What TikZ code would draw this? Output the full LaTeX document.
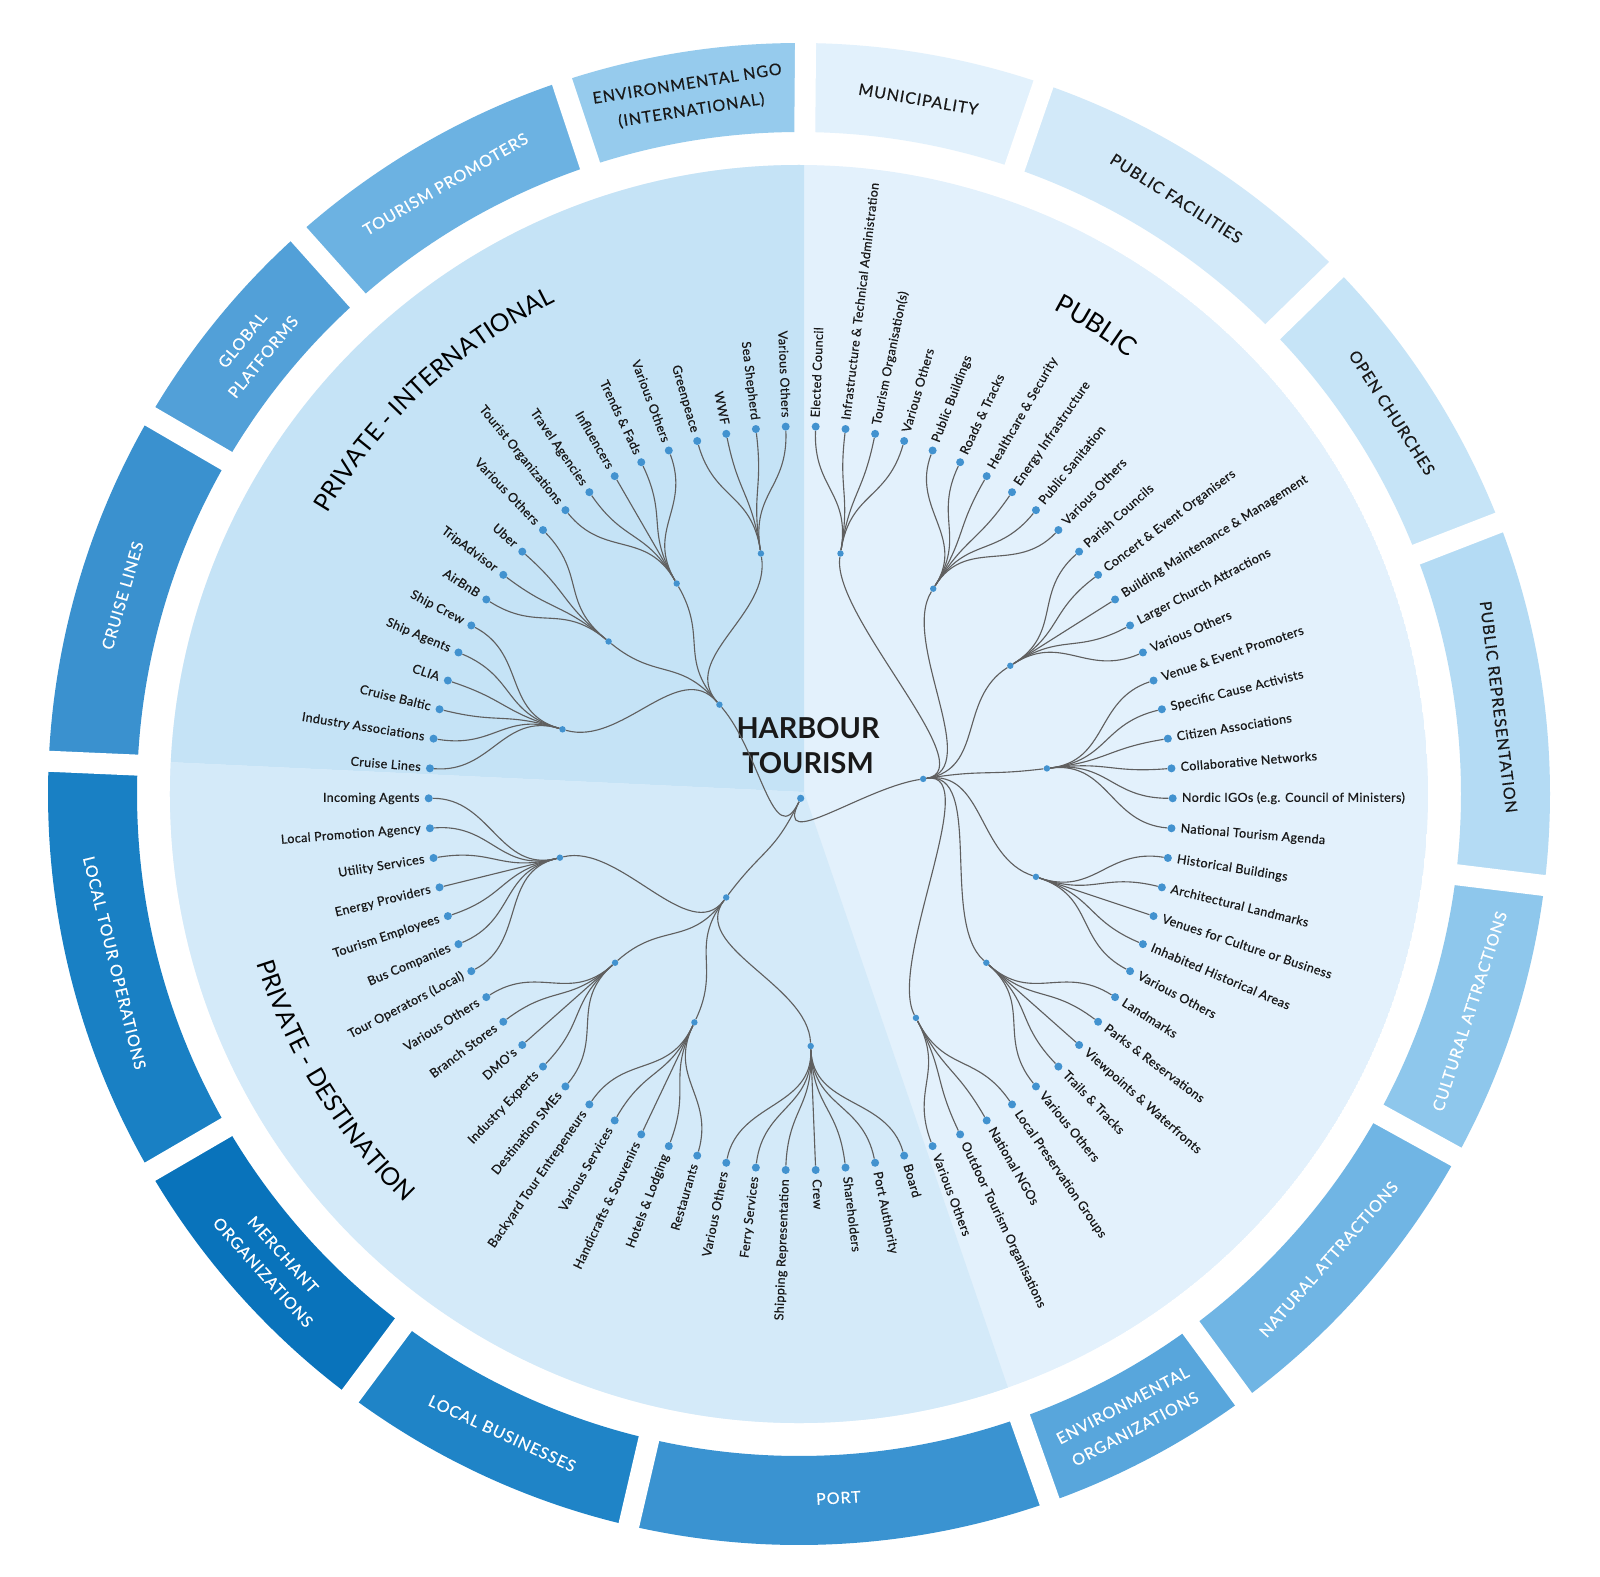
\documentclass[tikz,border=0pt]{standalone}
\usepackage{fontspec}
\setmainfont{Lato}
\newfontfamily\anillofam[LetterSpace=6, FakeBold=0.4]{Lato}
\newfontfamily\hojasfam[LetterSpace=3, FakeBold=0.6]{Lato}
\newcommand{\anillo}{\anillofam\fontsize{11.4}{19}\selectfont}
\newcommand{\hojas}{\hojasfam\fontsize{8.9}{10}\selectfont}
\newcommand{\titulo}{\fontsize{18.5}{20}\selectfont}
\newcommand{\titulob}{\fontsize{17.5}{20}\selectfont}
\usetikzlibrary{decorations.text}

\definecolor{fondoPI}{RGB}{197,227,246}
\definecolor{fondoPD}{RGB}{212,234,249}
\definecolor{fondoPU}{RGB}{227,241,252}
\definecolor{cMun}{RGB}{226,241,252}
\definecolor{cFac}{RGB}{210,233,249}
\definecolor{cIgl}{RGB}{198,228,247}
\definecolor{cRep}{RGB}{180,219,244}
\definecolor{cCul}{RGB}{142,199,236}
\definecolor{cNat}{RGB}{112,181,228}
\definecolor{cEnv}{RGB}{88,166,220}
\definecolor{cPto}{RGB}{58,147,209}
\definecolor{cNeg}{RGB}{31,132,199}
\definecolor{cMer}{RGB}{9,115,187}
\definecolor{cTou}{RGB}{25,128,196}
\definecolor{cCru}{RGB}{58,145,207}
\definecolor{cGlo}{RGB}{82,160,216}
\definecolor{cPro}{RGB}{108,178,226}
\definecolor{cNgo}{RGB}{150,203,237}
\definecolor{punto}{RGB}{66,146,207}
\definecolor{linea}{RGB}{95,95,95}
\definecolor{tinta}{RGB}{25,25,25}

\begin{document}
\begin{tikzpicture}[x=0.25mm, y=0.25mm,
	hoja/.style={circle, fill=punto, inner sep=0pt, minimum size=2mm},
	nudo/.style={circle, fill=punto, inner sep=0pt, minimum size=1.6mm},
	rama/.style={draw=linea, line width=0.28mm},
	etqD/.style={anchor=mid west, inner sep=0pt, text=tinta, font=\hojas},
	etqI/.style={anchor=mid east, inner sep=0pt, text=tinta, font=\hojas},
	seg/.style={font=\anillo, align=center},
	hueco/.style={white, line width=5.25mm}]

	\fill[white] (-799,-782) rectangle (801,794);
	\useasboundingbox (-799,-782) rectangle (801,794);

%disco
	\begin{scope}
	\clip (0,0) circle (629);
	\fill[fondoPU] (0,0) circle (629);
	\begin{scope}[shift={(5,2)}]
	\fill[fondoPI] (0,0) -- (90:900) -- (120:900) -- (150:900) -- (177.3:900) -- cycle;
	\fill[fondoPD] (0,0) -- (177.3:900) -- (205:900) -- (233:900) -- (261:900) -- (288.9:900) -- cycle;
	\end{scope}
	\end{scope}

%anillo
	\fill[cMun] (71:662) arc[start angle=71, end angle=89.5, radius=662] -- (89.5:751) arc[start angle=89.5, end angle=71, radius=751] -- cycle;
	\fill[cFac] (44.3:662) arc[start angle=44.3, end angle=71, radius=662] -- (71:751) arc[start angle=71, end angle=44.3, radius=751] -- cycle;
	\fill[cIgl] (21.2:662) arc[start angle=21.2, end angle=44.3, radius=662] -- (44.3:751) arc[start angle=44.3, end angle=21.2, radius=751] -- cycle;
	\fill[cRep] (-7:662) arc[start angle=-7, end angle=21.2, radius=662] -- (21.2:751) arc[start angle=21.2, end angle=-7, radius=751] -- cycle;
	\fill[cCul] (-28.9:662) arc[start angle=-28.9, end angle=-7, radius=662] -- (-7:751) arc[start angle=-7, end angle=-28.9, radius=751] -- cycle;
	\fill[cNat] (-53.7:662) arc[start angle=-53.7, end angle=-28.9, radius=662] -- (-28.9:751) arc[start angle=-28.9, end angle=-53.7, radius=751] -- cycle;
	\fill[cEnv] (-70.5:662) arc[start angle=-70.5, end angle=-53.7, radius=662] -- (-53.7:751) arc[start angle=-53.7, end angle=-70.5, radius=751] -- cycle;
	\fill[cPto] (-103.1:662) arc[start angle=-103.1, end angle=-70.5, radius=662] -- (-70.5:751) arc[start angle=-70.5, end angle=-103.1, radius=751] -- cycle;
	\fill[cNeg] (233.3:662) arc[start angle=233.3, end angle=256.9, radius=662] -- (256.9:751) arc[start angle=256.9, end angle=233.3, radius=751] -- cycle;
	\fill[cMer] (210.2:662) arc[start angle=210.2, end angle=233.3, radius=662] -- (233.3:751) arc[start angle=233.3, end angle=210.2, radius=751] -- cycle;
	\fill[cTou] (177.5:662) arc[start angle=177.5, end angle=210.2, radius=662] -- (210.2:751) arc[start angle=210.2, end angle=177.5, radius=751] -- cycle;
	\fill[cCru] (149.8:662) arc[start angle=149.8, end angle=177.5, radius=662] -- (177.5:751) arc[start angle=177.5, end angle=149.8, radius=751] -- cycle;
	\fill[cGlo] (131.8:662) arc[start angle=131.8, end angle=149.8, radius=662] -- (149.8:751) arc[start angle=149.8, end angle=131.8, radius=751] -- cycle;
	\fill[cPro] (108.4:662) arc[start angle=108.4, end angle=131.8, radius=662] -- (131.8:751) arc[start angle=131.8, end angle=108.4, radius=751] -- cycle;
	\fill[cNgo] (89.5:662) arc[start angle=89.5, end angle=108.4, radius=662] -- (108.4:751) arc[start angle=108.4, end angle=89.5, radius=751] -- cycle;
	%huecos
	\draw[hueco] (89.5:640) -- (89.5:770);   \draw[hueco] (71:640) -- (71:770);
	\draw[hueco] (44.3:640) -- (44.3:770);   \draw[hueco] (21.2:640) -- (21.2:770);
	\draw[hueco] (-7:640) -- (-7:770);       \draw[hueco] (-28.9:640) -- (-28.9:770);
	\draw[hueco] (-53.7:640) -- (-53.7:770); \draw[hueco] (-70.5:640) -- (-70.5:770);
	\draw[hueco] (256.9:640) -- (256.9:770); \draw[hueco] (233.3:640) -- (233.3:770);
	\draw[hueco] (210.2:640) -- (210.2:770); \draw[hueco] (177.5:640) -- (177.5:770);
	\draw[hueco] (149.8:640) -- (149.8:770); \draw[hueco] (131.8:640) -- (131.8:770);
	\draw[hueco] (108.4:640) -- (108.4:770);
	%textos del anillo
	\node[seg, text=tinta, rotate=-9.75] (rMun) at (80.25:705) {MUNICIPALITY};
	\node[seg, text=tinta, rotate=-32.35] (rFac) at (57.65:705) {PUBLIC FACILITIES};
	\node[seg, text=tinta, rotate=-57.25] (rIgl) at (32.75:705) {OPEN CHURCHES};
	\node[seg, text=tinta, rotate=-82.9] (rRep) at (7.1:705) {PUBLIC REPRESENTATION};
	\node[seg, text=white, rotate=72.05] (rCul) at (-17.95:705) {CULTURAL ATTRACTIONS};
	\node[seg, text=white, rotate=48.7] (rNat) at (-41.3:705) {NATURAL ATTRACTIONS};
	\node[seg, text=white, rotate=27.9] (rEnv) at (-62.1:705) {ENVIRONMENTAL\\ORGANIZATIONS};
	\node[seg, text=white, rotate=3.2] (rPto) at (-86.8:705) {PORT};
	\node[seg, text=white, rotate=-24.9] (rNeg) at (245.1:705) {LOCAL BUSINESSES};
	\node[seg, text=white, rotate=-48.25] (rMer) at (221.75:705) {MERCHANT\\ORGANIZATIONS};
	\node[seg, text=white, rotate=-76.15] (rTou) at (193.85:705) {LOCAL TOUR OPERATIONS};
	\node[seg, text=white, rotate=73.65] (rCru) at (163.65:705) {CRUISE LINES};
	\node[seg, text=white, rotate=50.8] (rGlo) at (140.8:705) {GLOBAL\\PLATFORMS};
	\node[seg, text=white, rotate=30.1] (rPro) at (120.1:705) {TOURISM PROMOTERS};
	\node[seg, text=tinta, rotate=8.95] (rNgo) at (98.95:705) {ENVIRONMENTAL NGO\\(INTERNATIONAL)};

%titulos
	\path[decorate, decoration={text along path, text align=center, text={|\titulo|PUBLIC}}] (87.6:547) arc[start angle=87.6, end angle=27.6, radius=547];
	\path[decorate, decoration={text along path, text align=center, text={|\titulob|PRIVATE - INTERNATIONAL}}] (162.8:549) arc[start angle=162.8, end angle=102.8, radius=549];
	\path[decorate, decoration={text along path, text align=center, text={|\titulob|PRIVATE - DESTINATION}}] (181.7:568) arc[start angle=181.7, end angle=241.7, radius=568];
	\node[font=\bfseries\fontsize{20.5}{25}\selectfont, align=center, text=tinta] (centro) at (9,48.5) {HARBOUR\\TOURISM};

%arbol
	\begin{scope}[shift={(1.7,-4.3)}]
	\node[nudo, minimum size=1.8mm] (raiz) at (0,0) {};
	\node[nudo] (gPU) at (9:124) {};
	\node[nudo] (gPD) at (233.08:124) {};
	\node[nudo] (gPI) at (130.96:124) {};
	\node[nudo] (sA) at (80.77:248) {};
	\node[nudo] (sB) at (57.69:248) {};
	\node[nudo] (sC) at (32.31:248) {};
	\node[nudo] (sD) at (6.92:248) {};
	\node[nudo] (sE) at (-18.46:248) {};
	\node[nudo] (sF) at (-41.54:248) {};
	\node[nudo] (sG) at (-62.31:248) {};
	\node[nudo] (sH) at (-87.69:248) {};
	\node[nudo] (sI) at (244.62:248) {};
	\node[nudo] (sJ) at (221.54:248) {};
	\node[nudo] (sK) at (193.85:248) {};
	\node[nudo] (sL) at (163.85:248) {};
	\node[nudo] (sM) at (140.77:248) {};
	\node[nudo] (sN) at (120:248) {};
	\node[nudo] (sO) at (99.23:248) {};

	%hojas (public)
	\node[hoja] (h0) at (87.69:372) {};   \node[etqD, rotate=87.69] (e0) at (87.69:381) {Elected Council};
	\node[hoja] (h1) at (83.08:372) {};   \node[etqD, rotate=83.08] (e1) at (83.08:381) {Infrastructure \& Technical Administration};
	\node[hoja] (h2) at (78.46:372) {};   \node[etqD, rotate=78.46] (e2) at (78.46:381) {Tourism Organisation(s)};
	\node[hoja] (h3) at (73.85:372) {};   \node[etqD, rotate=73.85] (e3) at (73.85:381) {Various Others};
	\node[hoja] (h4) at (69.23:372) {};   \node[etqD, rotate=69.23] (e4) at (69.23:381) {Public Buildings};
	\node[hoja] (h5) at (64.62:372) {};   \node[etqD, rotate=64.62] (e5) at (64.62:381) {Roads \& Tracks};
	\node[hoja] (h6) at (60:372) {};      \node[etqD, rotate=60] (e6) at (60:381) {Healthcare \& Security};
	\node[hoja] (h7) at (55.38:372) {};   \node[etqD, rotate=55.38] (e7) at (55.38:381) {Energy Infrastructure};
	\node[hoja] (h8) at (50.77:372) {};   \node[etqD, rotate=50.77] (e8) at (50.77:381) {Public Sanitation};
	\node[hoja] (h9) at (46.15:372) {};   \node[etqD, rotate=46.15] (e9) at (46.15:381) {Various Others};
	\node[hoja] (h10) at (41.54:372) {};  \node[etqD, rotate=41.54] (e10) at (41.54:381) {Parish Councils};
	\node[hoja] (h11) at (36.92:372) {};  \node[etqD, rotate=36.92] (e11) at (36.92:381) {Concert \& Event Organisers};
	\node[hoja] (h12) at (32.31:372) {};  \node[etqD, rotate=32.31] (e12) at (32.31:381) {Building Maintenance \& Management};
	\node[hoja] (h13) at (27.69:372) {};  \node[etqD, rotate=27.69] (e13) at (27.69:381) {Larger Church Attractions};
	\node[hoja] (h14) at (23.08:372) {};  \node[etqD, rotate=23.08] (e14) at (23.08:381) {Various Others};
	\node[hoja] (h15) at (18.46:372) {};  \node[etqD, rotate=18.46] (e15) at (18.46:381) {Venue \& Event Promoters};
	\node[hoja] (h16) at (13.85:372) {};  \node[etqD, rotate=13.85] (e16) at (13.85:381) {Specific Cause Activists};
	\node[hoja] (h17) at (9.23:372) {};   \node[etqD, rotate=9.23] (e17) at (9.23:381) {Citizen Associations};
	\node[hoja] (h18) at (4.62:372) {};   \node[etqD, rotate=4.62] (e18) at (4.62:381) {Collaborative Networks};
	\node[hoja] (h19) at (0:372) {};      \node[etqD, rotate=0] (e19) at (0:381) {Nordic IGOs (e.g. Council of Ministers)};
	\node[hoja] (h20) at (-4.62:372) {};  \node[etqD, rotate=-4.62] (e20) at (-4.62:381) {National Tourism Agenda};
	\node[hoja] (h21) at (-9.23:372) {};  \node[etqD, rotate=-9.23] (e21) at (-9.23:381) {Historical Buildings};
	\node[hoja] (h22) at (-13.85:372) {}; \node[etqD, rotate=-13.85] (e22) at (-13.85:381) {Architectural Landmarks};
	\node[hoja] (h23) at (-18.46:372) {}; \node[etqD, rotate=-18.46] (e23) at (-18.46:381) {Venues for Culture or Business};
	\node[hoja] (h24) at (-23.08:372) {}; \node[etqD, rotate=-23.08] (e24) at (-23.08:381) {Inhabited Historical Areas};
	\node[hoja] (h25) at (-27.69:372) {}; \node[etqD, rotate=-27.69] (e25) at (-27.69:381) {Various Others};
	\node[hoja] (h26) at (-32.31:372) {}; \node[etqD, rotate=-32.31] (e26) at (-32.31:381) {Landmarks};
	\node[hoja] (h27) at (-36.92:372) {}; \node[etqD, rotate=-36.92] (e27) at (-36.92:381) {Parks \& Reservations};
	\node[hoja] (h28) at (-41.54:372) {}; \node[etqD, rotate=-41.54] (e28) at (-41.54:381) {Viewpoints \& Waterfronts};
	\node[hoja] (h29) at (-46.15:372) {}; \node[etqD, rotate=-46.15] (e29) at (-46.15:381) {Trails \& Tracks};
	\node[hoja] (h30) at (-50.77:372) {}; \node[etqD, rotate=-50.77] (e30) at (-50.77:381) {Various Others};
	\node[hoja] (h31) at (-55.38:372) {}; \node[etqD, rotate=-55.38] (e31) at (-55.38:381) {Local Preservation Groups};
	\node[hoja] (h32) at (-60:372) {};    \node[etqD, rotate=-60] (e32) at (-60:381) {National NGOs};
	\node[hoja] (h33) at (-64.62:372) {}; \node[etqD, rotate=-64.62] (e33) at (-64.62:381) {Outdoor Tourism Organisations};
	\node[hoja] (h34) at (-69.23:372) {}; \node[etqD, rotate=-69.23] (e34) at (-69.23:381) {Various Others};
	%hojas (private - destination)
	\node[hoja] (h35) at (-73.85:372) {}; \node[etqD, rotate=-73.85] (e35) at (-73.85:381) {Board};
	\node[hoja] (h36) at (-78.46:372) {}; \node[etqD, rotate=-78.46] (e36) at (-78.46:381) {Port Authority};
	\node[hoja] (h37) at (-83.08:372) {}; \node[etqD, rotate=-83.08] (e37) at (-83.08:381) {Shareholders};
	\node[hoja] (h38) at (-87.69:372) {}; \node[etqD, rotate=-87.69] (e38) at (-87.69:381) {Crew};
	\node[hoja] (h39) at (267.69:372) {}; \node[etqI, rotate=87.69] (e39) at (267.69:381) {Shipping Representation};
	\node[hoja] (h40) at (263.08:372) {}; \node[etqI, rotate=83.08] (e40) at (263.08:381) {Ferry Services};
	\node[hoja] (h41) at (258.46:372) {}; \node[etqI, rotate=78.46] (e41) at (258.46:381) {Various Others};
	\node[hoja] (h42) at (253.85:372) {}; \node[etqI, rotate=73.85] (e42) at (253.85:381) {Restaurants};
	\node[hoja] (h43) at (249.23:372) {}; \node[etqI, rotate=69.23] (e43) at (249.23:381) {Hotels \& Lodging};
	\node[hoja] (h44) at (244.62:372) {}; \node[etqI, rotate=64.62] (e44) at (244.62:381) {Handicrafts \& Souvenirs};
	\node[hoja] (h45) at (240:372) {};    \node[etqI, rotate=60] (e45) at (240:381) {Various Services};
	\node[hoja] (h46) at (235.38:372) {}; \node[etqI, rotate=55.38] (e46) at (235.38:381) {Backyard Tour Entrepeneurs};
	\node[hoja] (h47) at (230.77:372) {}; \node[etqI, rotate=50.77] (e47) at (230.77:381) {Destination SMEs};
	\node[hoja] (h48) at (226.15:372) {}; \node[etqI, rotate=46.15] (e48) at (226.15:381) {Industry Experts};
	\node[hoja] (h49) at (221.54:372) {}; \node[etqI, rotate=41.54] (e49) at (221.54:381) {DMO's};
	\node[hoja] (h50) at (216.92:372) {}; \node[etqI, rotate=36.92] (e50) at (216.92:381) {Branch Stores};
	\node[hoja] (h51) at (212.31:372) {}; \node[etqI, rotate=32.31] (e51) at (212.31:381) {Various Others};
	\node[hoja] (h52) at (207.69:372) {}; \node[etqI, rotate=27.69] (e52) at (207.69:381) {Tour Operators (Local)};
	\node[hoja] (h53) at (203.08:372) {}; \node[etqI, rotate=23.08] (e53) at (203.08:381) {Bus Companies};
	\node[hoja] (h54) at (198.46:372) {}; \node[etqI, rotate=18.46] (e54) at (198.46:381) {Tourism Employees};
	\node[hoja] (h55) at (193.85:372) {}; \node[etqI, rotate=13.85] (e55) at (193.85:381) {Energy Providers};
	\node[hoja] (h56) at (189.23:372) {}; \node[etqI, rotate=9.23] (e56) at (189.23:381) {Utility Services};
	\node[hoja] (h57) at (184.62:372) {}; \node[etqI, rotate=4.62] (e57) at (184.62:381) {Local Promotion Agency};
	\node[hoja] (h58) at (180:372) {};    \node[etqI, rotate=0] (e58) at (180:381) {Incoming Agents};
	%hojas (private - international)
	\node[hoja] (h59) at (175.38:372) {}; \node[etqI, rotate=-4.62] (e59) at (175.38:381) {Cruise Lines};
	\node[hoja] (h60) at (170.77:372) {}; \node[etqI, rotate=-9.23] (e60) at (170.77:381) {Industry Associations};
	\node[hoja] (h61) at (166.15:372) {}; \node[etqI, rotate=-13.85] (e61) at (166.15:381) {Cruise Baltic};
	\node[hoja] (h62) at (161.54:372) {}; \node[etqI, rotate=-18.46] (e62) at (161.54:381) {CLIA};
	\node[hoja] (h63) at (156.92:372) {}; \node[etqI, rotate=-23.08] (e63) at (156.92:381) {Ship Agents};
	\node[hoja] (h64) at (152.31:372) {}; \node[etqI, rotate=-27.69] (e64) at (152.31:381) {Ship Crew};
	\node[hoja] (h65) at (147.69:372) {}; \node[etqI, rotate=-32.31] (e65) at (147.69:381) {AirBnB};
	\node[hoja] (h66) at (143.08:372) {}; \node[etqI, rotate=-36.92] (e66) at (143.08:381) {TripAdvisor};
	\node[hoja] (h67) at (138.46:372) {}; \node[etqI, rotate=-41.54] (e67) at (138.46:381) {Uber};
	\node[hoja] (h68) at (133.85:372) {}; \node[etqI, rotate=-46.15] (e68) at (133.85:381) {Various Others};
	\node[hoja] (h69) at (129.23:372) {}; \node[etqI, rotate=-50.77] (e69) at (129.23:381) {Tourist Organizations};
	\node[hoja] (h70) at (124.62:372) {}; \node[etqI, rotate=-55.38] (e70) at (124.62:381) {Travel Agencies};
	\node[hoja] (h71) at (120:372) {};    \node[etqI, rotate=-60] (e71) at (120:381) {Influencers};
	\node[hoja] (h72) at (115.38:372) {}; \node[etqI, rotate=-64.62] (e72) at (115.38:381) {Trends \& Fads};
	\node[hoja] (h73) at (110.77:372) {}; \node[etqI, rotate=-69.23] (e73) at (110.77:381) {Various Others};
	\node[hoja] (h74) at (106.15:372) {}; \node[etqI, rotate=-73.85] (e74) at (106.15:381) {Greenpeace};
	\node[hoja] (h75) at (101.54:372) {}; \node[etqI, rotate=-78.46] (e75) at (101.54:381) {WWF};
	\node[hoja] (h76) at (96.92:372) {};  \node[etqI, rotate=-83.08] (e76) at (96.92:381) {Sea Shepherd};
	\node[hoja] (h77) at (92.31:372) {};  \node[etqI, rotate=-87.69] (e77) at (92.31:381) {Various Others};

	%raiz
	\draw[rama] (raiz) .. controls (243.98:62) and (9:62) .. (gPU);
	\draw[rama] (raiz) .. controls (243.98:62) and (233.08:62) .. (gPD);
	\draw[rama] (raiz) .. controls (243.98:62) and (130.96:62) .. (gPI);
	%grupos
	\draw[rama] (gPU) .. controls (9:186) and (80.77:186) .. (sA);
	\draw[rama] (gPU) .. controls (9:186) and (57.69:186) .. (sB);
	\draw[rama] (gPU) .. controls (9:186) and (32.31:186) .. (sC);
	\draw[rama] (gPU) .. controls (9:186) and (6.92:186) .. (sD);
	\draw[rama] (gPU) .. controls (9:186) and (-18.46:186) .. (sE);
	\draw[rama] (gPU) .. controls (9:186) and (-41.54:186) .. (sF);
	\draw[rama] (gPU) .. controls (9:186) and (-62.31:186) .. (sG);
	\draw[rama] (gPD) .. controls (233.08:186) and (272.31:186) .. (sH);
	\draw[rama] (gPD) .. controls (233.08:186) and (244.62:186) .. (sI);
	\draw[rama] (gPD) .. controls (233.08:186) and (221.54:186) .. (sJ);
	\draw[rama] (gPD) .. controls (233.08:186) and (193.85:186) .. (sK);
	\draw[rama] (gPI) .. controls (130.96:186) and (163.85:186) .. (sL);
	\draw[rama] (gPI) .. controls (130.96:186) and (140.77:186) .. (sM);
	\draw[rama] (gPI) .. controls (130.96:186) and (120:186) .. (sN);
	\draw[rama] (gPI) .. controls (130.96:186) and (99.23:186) .. (sO);
	%A
	\draw[rama] (sA) .. controls (80.77:310) and (87.69:310) .. (h0);
	\draw[rama] (sA) .. controls (80.77:310) and (83.08:310) .. (h1);
	\draw[rama] (sA) .. controls (80.77:310) and (78.46:310) .. (h2);
	\draw[rama] (sA) .. controls (80.77:310) and (73.85:310) .. (h3);
	%B
	\draw[rama] (sB) .. controls (57.69:310) and (69.23:310) .. (h4);
	\draw[rama] (sB) .. controls (57.69:310) and (64.62:310) .. (h5);
	\draw[rama] (sB) .. controls (57.69:310) and (60:310) .. (h6);
	\draw[rama] (sB) .. controls (57.69:310) and (55.38:310) .. (h7);
	\draw[rama] (sB) .. controls (57.69:310) and (50.77:310) .. (h8);
	\draw[rama] (sB) .. controls (57.69:310) and (46.15:310) .. (h9);
	%C
	\draw[rama] (sC) .. controls (32.31:310) and (41.54:310) .. (h10);
	\draw[rama] (sC) .. controls (32.31:310) and (36.92:310) .. (h11);
	\draw[rama] (sC) .. controls (32.31:310) and (32.31:310) .. (h12);
	\draw[rama] (sC) .. controls (32.31:310) and (27.69:310) .. (h13);
	\draw[rama] (sC) .. controls (32.31:310) and (23.08:310) .. (h14);
	%D
	\draw[rama] (sD) .. controls (6.92:310) and (18.46:310) .. (h15);
	\draw[rama] (sD) .. controls (6.92:310) and (13.85:310) .. (h16);
	\draw[rama] (sD) .. controls (6.92:310) and (9.23:310) .. (h17);
	\draw[rama] (sD) .. controls (6.92:310) and (4.62:310) .. (h18);
	\draw[rama] (sD) .. controls (6.92:310) and (0:310) .. (h19);
	\draw[rama] (sD) .. controls (6.92:310) and (-4.62:310) .. (h20);
	%E
	\draw[rama] (sE) .. controls (-18.46:310) and (-9.23:310) .. (h21);
	\draw[rama] (sE) .. controls (-18.46:310) and (-13.85:310) .. (h22);
	\draw[rama] (sE) .. controls (-18.46:310) and (-18.46:310) .. (h23);
	\draw[rama] (sE) .. controls (-18.46:310) and (-23.08:310) .. (h24);
	\draw[rama] (sE) .. controls (-18.46:310) and (-27.69:310) .. (h25);
	%F
	\draw[rama] (sF) .. controls (-41.54:310) and (-32.31:310) .. (h26);
	\draw[rama] (sF) .. controls (-41.54:310) and (-36.92:310) .. (h27);
	\draw[rama] (sF) .. controls (-41.54:310) and (-41.54:310) .. (h28);
	\draw[rama] (sF) .. controls (-41.54:310) and (-46.15:310) .. (h29);
	\draw[rama] (sF) .. controls (-41.54:310) and (-50.77:310) .. (h30);
	%G
	\draw[rama] (sG) .. controls (-62.31:310) and (-55.38:310) .. (h31);
	\draw[rama] (sG) .. controls (-62.31:310) and (-60:310) .. (h32);
	\draw[rama] (sG) .. controls (-62.31:310) and (-64.62:310) .. (h33);
	\draw[rama] (sG) .. controls (-62.31:310) and (-69.23:310) .. (h34);
	%H
	\draw[rama] (sH) .. controls (-87.69:310) and (-73.85:310) .. (h35);
	\draw[rama] (sH) .. controls (-87.69:310) and (-78.46:310) .. (h36);
	\draw[rama] (sH) .. controls (-87.69:310) and (-83.08:310) .. (h37);
	\draw[rama] (sH) .. controls (-87.69:310) and (-87.69:310) .. (h38);
	\draw[rama] (sH) .. controls (-87.69:310) and (267.69:310) .. (h39);
	\draw[rama] (sH) .. controls (-87.69:310) and (263.08:310) .. (h40);
	\draw[rama] (sH) .. controls (-87.69:310) and (258.46:310) .. (h41);
	%I
	\draw[rama] (sI) .. controls (244.62:310) and (253.85:310) .. (h42);
	\draw[rama] (sI) .. controls (244.62:310) and (249.23:310) .. (h43);
	\draw[rama] (sI) .. controls (244.62:310) and (244.62:310) .. (h44);
	\draw[rama] (sI) .. controls (244.62:310) and (240:310) .. (h45);
	\draw[rama] (sI) .. controls (244.62:310) and (235.38:310) .. (h46);
	%J
	\draw[rama] (sJ) .. controls (221.54:310) and (230.77:310) .. (h47);
	\draw[rama] (sJ) .. controls (221.54:310) and (226.15:310) .. (h48);
	\draw[rama] (sJ) .. controls (221.54:310) and (221.54:310) .. (h49);
	\draw[rama] (sJ) .. controls (221.54:310) and (216.92:310) .. (h50);
	\draw[rama] (sJ) .. controls (221.54:310) and (212.31:310) .. (h51);
	%K
	\draw[rama] (sK) .. controls (193.85:310) and (207.69:310) .. (h52);
	\draw[rama] (sK) .. controls (193.85:310) and (203.08:310) .. (h53);
	\draw[rama] (sK) .. controls (193.85:310) and (198.46:310) .. (h54);
	\draw[rama] (sK) .. controls (193.85:310) and (193.85:310) .. (h55);
	\draw[rama] (sK) .. controls (193.85:310) and (189.23:310) .. (h56);
	\draw[rama] (sK) .. controls (193.85:310) and (184.62:310) .. (h57);
	\draw[rama] (sK) .. controls (193.85:310) and (180:310) .. (h58);
	%L
	\draw[rama] (sL) .. controls (163.85:310) and (175.38:310) .. (h59);
	\draw[rama] (sL) .. controls (163.85:310) and (170.77:310) .. (h60);
	\draw[rama] (sL) .. controls (163.85:310) and (166.15:310) .. (h61);
	\draw[rama] (sL) .. controls (163.85:310) and (161.54:310) .. (h62);
	\draw[rama] (sL) .. controls (163.85:310) and (156.92:310) .. (h63);
	\draw[rama] (sL) .. controls (163.85:310) and (152.31:310) .. (h64);
	%M
	\draw[rama] (sM) .. controls (140.77:310) and (147.69:310) .. (h65);
	\draw[rama] (sM) .. controls (140.77:310) and (143.08:310) .. (h66);
	\draw[rama] (sM) .. controls (140.77:310) and (138.46:310) .. (h67);
	\draw[rama] (sM) .. controls (140.77:310) and (133.85:310) .. (h68);
	%N
	\draw[rama] (sN) .. controls (120:310) and (129.23:310) .. (h69);
	\draw[rama] (sN) .. controls (120:310) and (124.62:310) .. (h70);
	\draw[rama] (sN) .. controls (120:310) and (120:310) .. (h71);
	\draw[rama] (sN) .. controls (120:310) and (115.38:310) .. (h72);
	\draw[rama] (sN) .. controls (120:310) and (110.77:310) .. (h73);
	%O
	\draw[rama] (sO) .. controls (99.23:310) and (106.15:310) .. (h74);
	\draw[rama] (sO) .. controls (99.23:310) and (101.54:310) .. (h75);
	\draw[rama] (sO) .. controls (99.23:310) and (96.92:310) .. (h76);
	\draw[rama] (sO) .. controls (99.23:310) and (92.31:310) .. (h77);
	\end{scope}
\end{tikzpicture}
\end{document}
